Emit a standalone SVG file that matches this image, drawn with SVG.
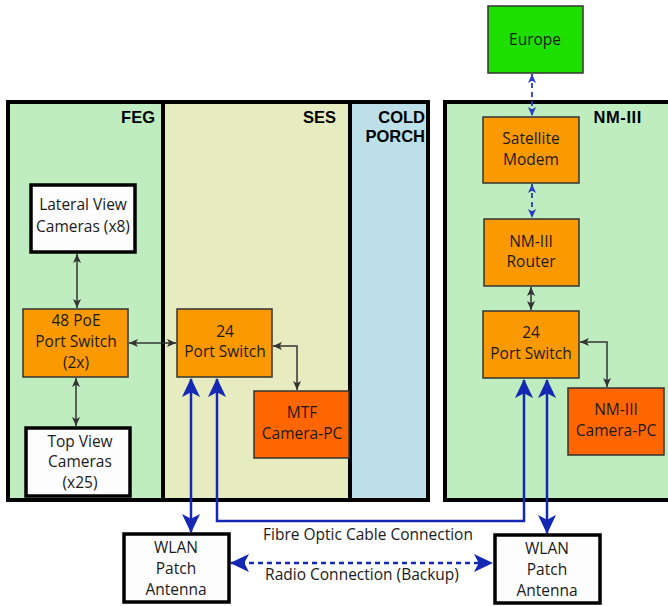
<svg xmlns="http://www.w3.org/2000/svg" width="668" height="606" viewBox="0 0 668 606">
<defs>
<style>
.zone{stroke:#000;stroke-width:4}
.zlabel{font-family:"Liberation Sans",Arial,sans-serif;font-weight:bold;font-size:16.5px;fill:#000;text-anchor:end}
.t{font-family:"Open Sans","Noto Sans",sans-serif;font-size:15.5px;fill:#1a1a1a;text-anchor:middle}
.orange{fill:#fb9a00;stroke:#333;stroke-width:1.5}
.dorange{fill:#ff6600;stroke:#333;stroke-width:1.5}
.white{fill:#fdfdfd;stroke:#000;stroke-width:3.5}
.green{fill:#1ee000;stroke:#333;stroke-width:1.5}
.blk{fill:none;stroke:#333;stroke-width:1.5;marker-start:url(#ab);marker-end:url(#ab)}
.blu{fill:none;stroke:#1428b4;stroke-width:2.5;marker-start:url(#abl);marker-end:url(#abl)}
.bluD{fill:none;stroke:#1428b4;stroke-width:2.5;stroke-dasharray:5 4;marker-start:url(#abl);marker-end:url(#abl)}
.bluS{fill:none;stroke:#2a3cc0;stroke-width:1.8;stroke-dasharray:5 4;marker-start:url(#abs);marker-end:url(#abs)}
</style>
<marker id="ab" viewBox="0 0 10 10" refX="10" refY="5" markerWidth="9" markerHeight="9" markerUnits="userSpaceOnUse" orient="auto-start-reverse">
<path d="M0,0.5 L10,5 L0,9.5 L2.5,5 Z" fill="#333"/>
</marker>
<marker id="abs" viewBox="0 0 10 10" refX="10" refY="5" markerWidth="9" markerHeight="9" markerUnits="userSpaceOnUse" orient="auto-start-reverse">
<path d="M0,0.5 L10,5 L0,9.5 L2.5,5 Z" fill="#2a3cc0"/>
</marker>
<marker id="abl" viewBox="0 0 20 20" refX="19" refY="10" markerWidth="19" markerHeight="19" markerUnits="userSpaceOnUse" orient="auto-start-reverse">
<path d="M0,0.5 L20,10 L0,19.5 L5,10 Z" fill="#1428b4"/>
</marker>
</defs>

<g id="zones">
<rect x="8" y="102" width="155" height="398" fill="#bfedbf"/>
<rect x="163" y="102" width="187" height="398" fill="#e6ecbf"/>
<rect x="350" y="102" width="78" height="398" fill="#bde0e8"/>
<rect class="zone" x="8" y="102" width="420" height="398" fill="none"/>
<line class="zone" x1="163" y1="102" x2="163" y2="500"/>
<line class="zone" x1="350" y1="102" x2="350" y2="500"/>
<rect class="zone" x="445" y="102" width="240" height="398" fill="#bfedbf"/>
<text class="zlabel" x="155" y="123">FEG</text>
<text class="zlabel" x="336" y="123">SES</text>
<text class="zlabel" x="425" y="123">COLD</text>
<text class="zlabel" x="425" y="142">PORCH</text>
<text class="zlabel" x="642" y="123" letter-spacing="0.6">NM-III</text>
</g>

<g id="connectors">
<line class="blk" x1="77" y1="254" x2="77" y2="308"/>
<line class="blk" x1="76" y1="378" x2="76" y2="426"/>
<line class="blk" x1="129" y1="343" x2="176" y2="343"/>
<polyline class="blk" points="273,346 297,346 297,390"/>
<line class="blk" x1="531" y1="287" x2="531" y2="310"/>
<polyline class="blk" points="580,342 607,342 607,387"/>
<line class="bluS" x1="532" y1="74" x2="532" y2="116"/>
<line class="bluS" x1="532" y1="184" x2="532" y2="218"/>
<line class="blu" x1="191" y1="379" x2="191" y2="532"/>
<polyline class="blu" points="217,379 217,521 524,521 524,380"/>
<line class="blu" x1="547" y1="380" x2="547" y2="533"/>
<line class="bluD" x1="231" y1="563" x2="492" y2="563"/>
<text class="t" x="368" y="540">Fibre Optic Cable Connection</text>
<text class="t" x="362" y="580">Radio Connection (Backup)</text>
</g>

<g id="europe">
<rect class="green" x="488" y="6" width="95" height="67"/>
<text class="t" x="535" y="45">Europe</text>
</g>
<g id="satellite-modem">
<rect class="orange" x="483" y="117" width="96" height="66"/>
<text class="t" x="531" y="144">Satellite</text>
<text class="t" x="531" y="165">Modem</text>
</g>
<g id="nm3-router">
<rect class="orange" x="484" y="219" width="95" height="67"/>
<text class="t" x="531" y="247">NM-III</text>
<text class="t" x="531" y="267">Router</text>
</g>
<g id="nm3-switch">
<rect class="orange" x="483" y="311" width="96" height="67"/>
<text class="t" x="531" y="338">24</text>
<text class="t" x="531" y="359">Port Switch</text>
</g>
<g id="nm3-camera-pc">
<rect class="dorange" x="568" y="388" width="96" height="67"/>
<text class="t" x="616" y="415">NM-III</text>
<text class="t" x="616" y="436">Camera-PC</text>
</g>
<g id="lateral-cameras">
<rect class="white" x="31" y="185" width="104" height="67"/>
<text class="t" x="83" y="210">Lateral View</text>
<text class="t" x="83" y="232">Cameras (x8)</text>
</g>
<g id="poe-switch">
<rect class="orange" x="23" y="309" width="105" height="68"/>
<text class="t" x="76" y="326">48 PoE</text>
<text class="t" x="76" y="347">Port Switch</text>
<text class="t" x="76" y="368">(2x)</text>
</g>
<g id="top-cameras">
<rect class="white" x="26" y="428" width="104" height="68"/>
<text class="t" x="80" y="447">Top View</text>
<text class="t" x="80" y="467">Cameras</text>
<text class="t" x="80" y="488">(x25)</text>
</g>
<g id="ses-switch">
<rect class="orange" x="177" y="309" width="95" height="68"/>
<text class="t" x="225" y="337">24</text>
<text class="t" x="225" y="357">Port Switch</text>
</g>
<g id="mtf-camera-pc">
<rect class="dorange" x="254" y="391" width="95" height="67"/>
<text class="t" x="302" y="418">MTF</text>
<text class="t" x="302" y="439">Camera-PC</text>
</g>
<g id="wlan-left">
<rect class="white" x="124" y="534" width="105" height="68"/>
<text class="t" x="176" y="553">WLAN</text>
<text class="t" x="176" y="574">Patch</text>
<text class="t" x="176" y="595">Antenna</text>
</g>
<g id="wlan-right">
<rect class="white" x="495" y="535" width="105" height="68"/>
<text class="t" x="547" y="554">WLAN</text>
<text class="t" x="547" y="575">Patch</text>
<text class="t" x="547" y="596">Antenna</text>
</g>
</svg>
